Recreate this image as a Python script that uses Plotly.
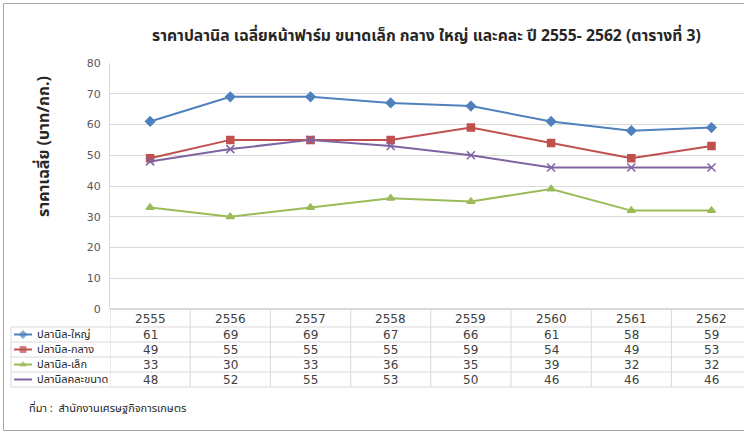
import plotly.graph_objects as go

years = ["2555", "2556", "2557", "2558", "2559", "2560", "2561", "2562"]
series_names = ["ปลานิล-ใหญ่", "ปลานิล-กลาง", "ปลานิล-เล็ก", "ปลานิลคละขนาด"]
large = [61, 69, 69, 67, 66, 61, 58, 59]
medium = [49, 55, 55, 55, 59, 54, 49, 53]
small = [33, 30, 33, 36, 35, 39, 32, 32]
mixed = [48, 52, 55, 53, 50, 46, 46, 46]
y_ticks = [0, 10, 20, 30, 40, 50, 60, 70, 80]

title_text = "ราคาปลานิล เฉลี่ยหน้าฟาร์ม ขนาดเล็ก กลาง ใหญ่ และคละ ปี 2555- 2562 (ตารางที่ 3)"
y_title = "ราคาเฉลี่ย (บาท/กก.)"
source_text = "ที่มา :  สำนักงานเศรษฐกิจการเกษตร"

W, H = 744, 432
FONT = "Tahoma, 'Leelawadee UI', 'Noto Sans Thai', 'DejaVu Sans', sans-serif"
colors = ["#4F81BD", "#C0504D", "#9BBB59", "#8064A2"]
symbols = ["diamond", "square", "triangle-up", "x-thin-open"]
all_series = [large, medium, small, mixed]

def px(x):
    return x / W

def py(y):
    return 1 - y / H

fig = go.Figure()
for name, vals, c, s in zip(series_names, all_series, colors, symbols):
    fig.add_trace(go.Scatter(
        x=years, y=vals, name=name, mode="lines+markers",
        line=dict(color=c, width=2),
        marker=dict(symbol=s, size=7 if s != "x-thin-open" else 8, color=c,
                    line=dict(color=c, width=1.5)),
        showlegend=False, xaxis="x", yaxis="y",
    ))

# legend keys in the table (pixel overlay axis)
row_centers = [334.5, 349.5, 364.5, 379.5]
for name, c, s, yc in zip(series_names, colors, symbols, row_centers):
    fig.add_trace(go.Scatter(
        x=[14, 23, 32], y=[yc, yc, yc], mode="lines+markers",
        line=dict(color=c, width=2),
        marker=dict(symbol=s, size=[0, 6, 0] if s != "x-thin-open" else [0, 0, 0], color=c,
                    line=dict(color=c, width=1)),
        showlegend=False, xaxis="x2", yaxis="y2", hoverinfo="skip",
    ))

cat_w = 80.2
left_px = 110
right_range = -0.5 + (W - left_px) / cat_w

fig.update_layout(
    width=W, height=H,
    margin=dict(l=0, r=0, t=0, b=0, pad=0, autoexpand=False),
    paper_bgcolor="white", plot_bgcolor="rgba(0,0,0,0)",
    font=dict(family=FONT, size=11, color="#404040"),
    xaxis=dict(domain=[px(left_px), 1], type="category", range=[-0.5, right_range],
               showgrid=False, showticklabels=False, showline=False, zeroline=False,
               anchor="y", automargin=False),
    yaxis=dict(domain=[py(309), py(63)], range=[0, 80], tickvals=y_ticks,
               showgrid=True, gridcolor="#D9D9D9", gridwidth=1,
               showline=True, linecolor="#D9D9D9", linewidth=1,
               zeroline=True, zerolinecolor="#D9D9D9",
               tickfont=dict(size=11, color="#595959", family="'DejaVu Sans', sans-serif"),
               ticks="", ticklabelstandoff=6, anchor="x", automargin=False),
    xaxis2=dict(domain=[0, 1], range=[0, W], visible=False, anchor="y2", automargin=False),
    yaxis2=dict(domain=[0, 1], range=[H, 0], visible=False, anchor="x2", automargin=False),
)

shapes = []
line_col = "#D9D9D9"
# outer chart border
shapes.append(dict(type="rect", xref="paper", yref="paper", x0=px(3.5), x1=px(760),
                   y0=py(3.5), y1=py(430.5), line=dict(color="#A6A6A6", width=1),
                   layer="below"))
# table horizontal lines
for yy in [327, 342, 357, 372, 387]:
    shapes.append(dict(type="line", xref="paper", yref="paper", x0=px(11), x1=1,
                       y0=py(yy), y1=py(yy), line=dict(color=line_col, width=1)))
# table vertical lines
for i in range(len(years) + 1):
    shapes.append(dict(type="line", xref="x", yref="paper", x0=i - 0.5, x1=i - 0.5,
                       y0=py(309), y1=py(387), line=dict(color=line_col, width=1)))
shapes.append(dict(type="line", xref="paper", yref="paper", x0=px(11), x1=px(11),
                   y0=py(327), y1=py(387), line=dict(color=line_col, width=1)))
fig.update_layout(shapes=shapes)

ann = []
ann.append(dict(text="<b>" + title_text + "</b>", xref="paper", yref="paper",
                x=px(426), y=py(36), showarrow=False, xanchor="center", yanchor="middle",
                font=dict(size=15.7, color="#262626")))
ann.append(dict(text="<b>" + y_title + "</b>", xref="paper", yref="paper",
                x=px(44), y=py(147), showarrow=False, textangle=-90,
                xanchor="center", yanchor="middle", font=dict(size=16, color="#262626")))
ann.append(dict(text=source_text, xref="paper", yref="paper", x=px(27), y=py(408),
                showarrow=False, xanchor="left", yanchor="middle",
                font=dict(size=11, color="#262626")))
tfont = dict(size=12, color="#404040", family="'DejaVu Sans', sans-serif")
for i, yr in enumerate(years):
    ann.append(dict(text=yr, xref="x", yref="paper", x=i, y=py(318.5), showarrow=False,
                    xanchor="center", yanchor="middle", font=tfont))
for vals, yc in zip(all_series, row_centers):
    for i, v in enumerate(vals):
        ann.append(dict(text=str(v), xref="x", yref="paper", x=i, y=py(yc), showarrow=False,
                        xanchor="center", yanchor="middle", font=tfont))
for name, yc in zip(series_names, row_centers):
    ann.append(dict(text=name, xref="paper", yref="paper", x=px(35), y=py(yc), showarrow=False,
                    xanchor="left", yanchor="middle", font=dict(size=11, color="#262626")))
fig.update_layout(annotations=ann)

post = (
    "document.documentElement.style.margin='0';"
    "document.documentElement.style.overflow='hidden';"
    "document.body.style.margin='0';document.body.style.padding='0';"
    "document.body.style.overflow='hidden';"
    "var gd=document.getElementById('{plot_id}');"
    "gd.style.position='fixed';gd.style.top='0px';gd.style.left='0px';"
)
fig.write_html("out.html", config={"displayModeBar": False}, post_script=post)
